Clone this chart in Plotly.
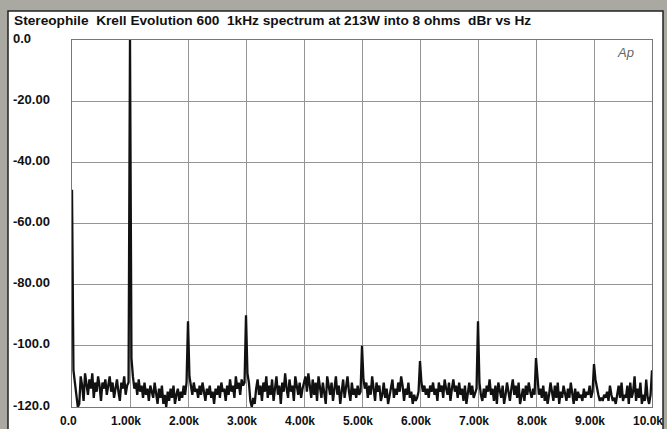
import plotly.graph_objects as go

# ---- data ----
freq_step = 25
level_db = [
    # 0 - 975 Hz
    -49, -108, -112, -117, -120, -119, -110, -113, -118, -109, -112, -116, -111, -114, -109, -117, -112, -115, -110, -113,
    -118, -112, -114, -111, -116, -113, -110, -115, -112, -117, -113, -111, -115, -118, -112, -114, -110, -116, -113, -112,
    # 1000 - 1975 Hz
    0, -104, -110, -114, -112, -116, -111, -115, -113, -117, -112, -116, -114, -118, -113, -115, -117, -112, -116, -119,
    -114, -117, -113, -119, -116, -120, -115, -118, -114, -117, -113, -119, -116, -114, -118, -115, -117, -113, -116, -112,
    # 2000 - 2975 Hz
    -92, -110, -113, -116, -112, -115, -114, -117, -113, -116, -112, -115, -118, -114, -116, -113, -117, -115, -119, -114,
    -116, -113, -117, -112, -115, -114, -118, -113, -116, -111, -115, -113, -117, -110, -114, -112, -116, -111, -113, -112,
    # 3000 - 3975 Hz
    -90, -109, -112, -118, -120, -117, -119, -114, -111, -116, -113, -118, -112, -115, -110, -117, -113, -116, -111, -118,
    -114, -110, -116, -113, -119, -112, -115, -109, -114, -117, -111, -115, -113, -118, -110, -114, -116, -112, -117, -114,
    # 4000 - 4975 Hz
    -112, -110, -115, -109, -113, -117, -111, -116, -112, -118, -110, -114, -117, -112, -115, -119, -110, -113, -116, -112,
    -118, -114, -110, -116, -113, -119, -115, -111, -117, -113, -110, -115, -118, -112, -116, -114, -117, -113, -116, -115,
    # 5000 - 5975 Hz
    -100, -111, -114, -112, -117, -113, -116, -110, -114, -118, -112, -115, -113, -118, -116, -112, -117, -114, -119, -116,
    -113, -111, -117, -114, -116, -112, -115, -110, -113, -118, -114, -116, -112, -117, -115, -119, -116, -118, -117, -115,
    # 6000 - 6975 Hz
    -105, -112, -115, -113, -116, -114, -117, -113, -115, -112, -116, -114, -118, -112, -115, -113, -117, -111, -114, -116,
    -112, -118, -114, -111, -115, -113, -117, -112, -116, -114, -118, -113, -119, -115, -112, -116, -113, -117, -115, -114,
    # 7000 - 7975 Hz
    -92, -112, -116, -118, -114, -117, -113, -115, -111, -116, -114, -118, -113, -119, -112, -115, -117, -113, -119, -116,
    -112, -115, -118, -114, -111, -116, -113, -117, -112, -119, -117, -114, -118, -113, -116, -112, -115, -117, -114, -116,
    # 8000 - 8975 Hz
    -104, -112, -116, -114, -117, -113, -118, -115, -119, -116, -112, -115, -118, -113, -117, -112, -119, -115, -117, -113,
    -116, -118, -114, -117, -112, -116, -119, -114, -118, -115, -117, -116, -118, -114, -117, -115, -116, -113, -117, -115,
    # 9000 - 9975 Hz
    -106, -111, -114, -116, -118, -117, -118, -116, -117, -115, -118, -113, -116, -118, -117, -119, -116, -113, -117, -112,
    -118, -116, -117, -113, -119, -112, -117, -115, -110, -118, -114, -117, -112, -119, -116, -118, -111, -117, -119, -116,
    # 10000 Hz
    -108,
]
freq_hz = [i * freq_step for i in range(len(level_db))]

x_tick_vals = [0, 1000, 2000, 3000, 4000, 5000, 6000, 7000, 8000, 9000, 10000]
x_tick_text = ["0.0", "1.00k", "2.00k", "3.00k", "4.00k", "5.00k",
               "6.00k", "7.00k", "8.00k", "9.00k", "10.0k"]
y_tick_vals = [0, -20, -40, -60, -80, -100, -120]
y_tick_text = ["0.0", "-20.00", "-40.00", "-60.00", "-80.00", "-100.0", "-120.0"]

title_text = "Stereophile  Krell Evolution 600  1kHz spectrum at 213W into 8 ohms  dBr vs Hz"

# ---- geometry (pixels) ----
W, H = 667, 429
L, R, T, B = 72, 15, 40, 22
PW, PH = W - L - R, H - T - B


def px(xp):
    return (xp - L) / PW


def py(yp):
    return (H - B - yp) / PH


FONT = "Liberation Sans"

fig = go.Figure()
fig.add_trace(go.Scatter(
    x=freq_hz, y=level_db, mode="lines",
    line=dict(color="#111111", width=2.3),
    hoverinfo="skip", showlegend=False,
))

fig.update_layout(
    width=W, height=H,
    margin=dict(l=L, r=R, t=T, b=B, pad=0),
    paper_bgcolor="#aaa9a1",
    plot_bgcolor="white",
    showlegend=False,
    font=dict(family=FONT, color="#111111"),
)

fig.update_xaxes(
    range=[0, 10000], tickvals=x_tick_vals, ticktext=[""] * len(x_tick_vals),
    showgrid=True, gridcolor="#959595", gridwidth=1,
    showline=True, linecolor="#777777", linewidth=1, mirror=True,
    ticks="", zeroline=False,
)
fig.update_yaxes(
    range=[-120, 0], tickvals=y_tick_vals, ticktext=[""] * len(y_tick_vals),
    showgrid=True, gridcolor="#959595", gridwidth=1,
    showline=True, linecolor="#777777", linewidth=1, mirror=True,
    ticks="", zeroline=False,
)

# white panel with dark frame
fig.add_shape(type="rect", xref="paper", yref="paper",
              x0=px(8), x1=px(663), y0=py(H + 5), y1=py(11),
              fillcolor="white", line=dict(color="#222222", width=1.5),
              layer="below")

# title
fig.add_annotation(xref="paper", yref="paper", x=px(12), y=py(20),
                   xanchor="left", yanchor="middle", showarrow=False,
                   text=title_text,
                   font=dict(family=FONT, size=13.7, weight="bold", color="#111111"))

# x tick labels, centred slightly left of their gridlines
for v, t in zip(x_tick_vals, x_tick_text):
    fig.add_annotation(xref="x", yref="paper", x=v, y=py(421),
                       xanchor="center", yanchor="middle", showarrow=False,
                       text=t, xshift=-4,
                       font=dict(family=FONT, size=12, weight="bold", color="#111111"))

# y tick labels, left aligned
for v, t in zip(y_tick_vals, y_tick_text):
    fig.add_annotation(xref="paper", yref="y", x=px(11), y=v,
                       xanchor="left", yanchor="middle", showarrow=False,
                       text=t, yshift=2,
                       font=dict(family=FONT, size=13, weight="bold", color="#111111"))

# Ap logo
fig.add_annotation(xref="paper", yref="paper", x=px(636), y=py(52),
                   xanchor="right", yanchor="middle", showarrow=False,
                   text="<i>Ap</i>",
                   font=dict(family=FONT, size=13, color="#666666"))

fig.write_html("out.html")
